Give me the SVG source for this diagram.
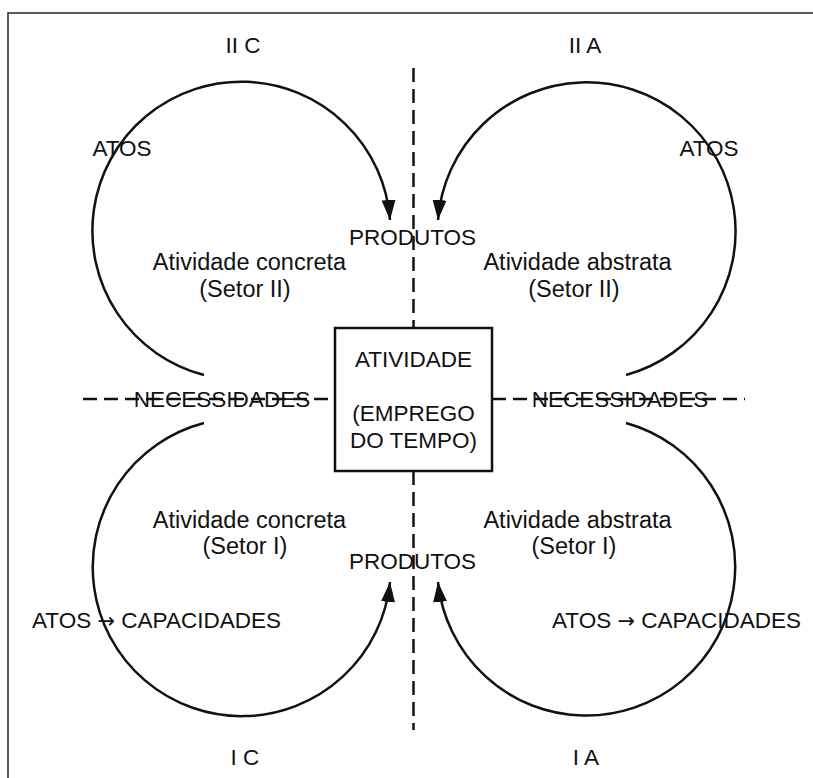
<svg xmlns="http://www.w3.org/2000/svg" width="813" height="778" viewBox="0 0 813 778">
<style>
text{font-family:"Liberation Sans",Arial,sans-serif;font-size:22.5px;fill:#111;text-anchor:middle}
.lc{font-size:23.5px}
.ar{font-family:"DejaVu Sans",sans-serif;font-size:21px}
.arc{fill:none;stroke:#111;stroke-width:2.5;marker-end:url(#ah)}
.dash{fill:none;stroke:#111;stroke-width:2.5;stroke-dasharray:14 7}
</style>
<defs>
<marker id="ah" markerUnits="userSpaceOnUse" markerWidth="22" markerHeight="16" refX="20" refY="7" orient="auto">
<path d="M0,0 L20,7 L0,14 Z" fill="#111"/>
</marker>
</defs>
<rect width="813" height="778" fill="#fff"/>
<rect x="8" y="13" width="900" height="900" fill="none" stroke="#333" stroke-width="1.6"/>
<g id="connectors">
<path class="dash" d="M83,399 H335 M492,399 H745"/>
<path class="dash" d="M413.5,68 V328 M413.5,471 V730"/>
<path class="arc" d="M204,375 A149,149 0 1 1 390,220"/>
<path class="arc" d="M626,375 A149,149 0 1 0 438,220"/>
<path class="arc" d="M204,423 A149,149 0 1 0 390,582"/>
<path class="arc" d="M626,423 A149,149 0 1 1 438,582"/>
</g>
<g id="center">
<rect x="335" y="328" width="157" height="143" fill="#fff" stroke="#111" stroke-width="2.5"/>
<text x="413.5" y="367">ATIVIDADE</text>
<text x="413.5" y="421">(EMPREGO</text>
<text x="413.5" y="448">DO TEMPO)</text>
</g>
<g id="labels">
<text x="243" y="53">II C</text>
<text x="585" y="53">II A</text>
<text x="245" y="765">I C</text>
<text x="586" y="765">I A</text>
<text x="122" y="156">ATOS</text>
<text x="709" y="156">ATOS</text>
<text x="412.5" y="245">PRODUTOS</text>
<text x="412.5" y="569">PRODUTOS</text>
<text x="222" y="407">NECESSIDADES</text>
<text x="620" y="407">NECESSIDADES</text>
</g>
<g id="q2c">
<text class="lc" x="249.5" y="270">Atividade concreta</text>
<text class="lc" x="245" y="297">(Setor II)</text>
</g>
<g id="q2a">
<text class="lc" x="577.5" y="270">Atividade abstrata</text>
<text class="lc" x="574" y="297">(Setor II)</text>
</g>
<g id="q1c">
<text class="lc" x="249.5" y="528">Atividade concreta</text>
<text class="lc" x="245" y="554">(Setor I)</text>
<text x="156.5" y="628">ATOS <tspan class="ar">→</tspan> CAPACIDADES</text>
</g>
<g id="q1a">
<text class="lc" x="577.5" y="528">Atividade abstrata</text>
<text class="lc" x="574" y="554">(Setor I)</text>
<text x="676.5" y="628">ATOS <tspan class="ar">→</tspan> CAPACIDADES</text>
</g>
</svg>
